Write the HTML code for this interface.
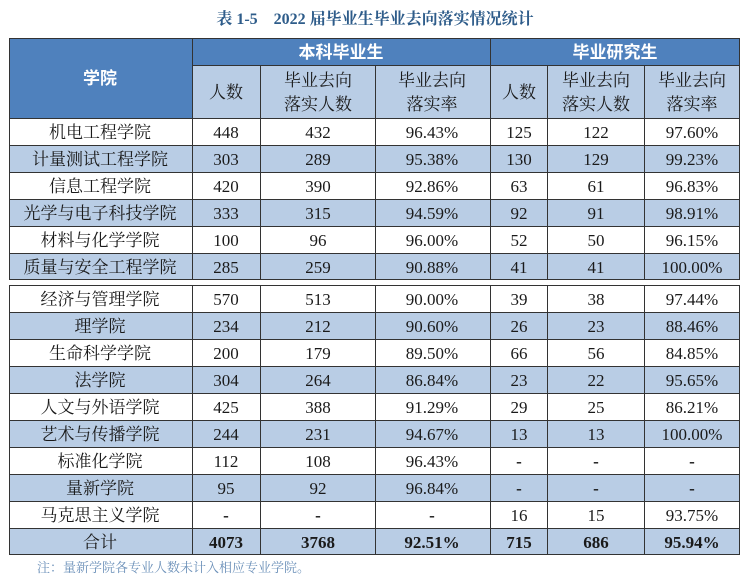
<!DOCTYPE html>
<html><head><meta charset="utf-8"><style>
html,body{margin:0;padding:0;background:#fff;}
svg{display:block}
.t{font-family:"Liberation Serif","Noto Serif CJK SC",serif;font-size:17px;fill:#1a1a1a;text-anchor:middle}
.h{font-family:"Liberation Sans","Noto Sans CJK SC",sans-serif;font-size:17px;font-weight:bold;fill:#fff;text-anchor:middle}
.b{font-weight:bold}
</style></head><body>
<svg width="749" height="581" xmlns="http://www.w3.org/2000/svg">
<text x="375" y="24" style="font-family:'Liberation Serif','Noto Serif CJK SC',serif;font-size:16px;font-weight:bold;fill:#2e5c8a;text-anchor:middle">表 1-5　2022 届毕业生毕业去向落实情况统计</text>
<!-- header -->
<rect x="9" y="38" width="731" height="80" fill="#b9cde5"/>
<rect x="9" y="38" width="183" height="80" fill="#4f81bd"/>
<rect x="192" y="38" width="548" height="27" fill="#4f81bd"/>
<!-- rows fills -->
<g fill="#b9cde5">
<rect x="9" y="145" width="731" height="27"/>
<rect x="9" y="199" width="731" height="27"/>
<rect x="9" y="253" width="731" height="27"/>
<rect x="9" y="312" width="731" height="27"/>
<rect x="9" y="366" width="731" height="27"/>
<rect x="9" y="420" width="731" height="27"/>
<rect x="9" y="474" width="731" height="27"/>
<rect x="9" y="528" width="731" height="27"/>
</g>
<g stroke="#333" stroke-width="1" fill="none">
<rect x="9.5" y="38.5" width="730" height="241"/>
<rect x="9.5" y="285.5" width="730" height="269"/>
<path d="M192.5 38V280M260.5 65V280M375.5 65V280M490.5 38V280M547.5 65V280M644.5 65V280"/>
<path d="M192.5 285V555M260.5 285V555M375.5 285V555M490.5 285V555M547.5 285V555M644.5 285V555"/>
<path d="M192 65.5H740M9 118.5H740M9 145.5H740M9 172.5H740M9 199.5H740M9 226.5H740M9 253.5H740"/>
<path d="M9 312.5H740M9 339.5H740M9 366.5H740M9 393.5H740M9 420.5H740M9 447.5H740M9 474.5H740M9 501.5H740M9 528.5H740"/>
</g>
<text class="h" x="100" y="84">学院</text>
<text class="h" x="341" y="58">本科毕业生</text>
<text class="h" x="615" y="58">毕业研究生</text>
<g class="t">
<text x="226" y="98">人数</text>
<text x="318" y="86">毕业去向</text><text x="318" y="110">落实人数</text>
<text x="432" y="86">毕业去向</text><text x="432" y="110">落实率</text>
<text x="519" y="98">人数</text>
<text x="596" y="86">毕业去向</text><text x="596" y="110">落实人数</text>
<text x="692" y="86">毕业去向</text><text x="692" y="110">落实率</text>
</g>
<g class="t">
<text x="100" y="138">机电工程学院</text><text x="226" y="138">448</text><text x="318" y="138">432</text><text x="432" y="138">96.43%</text><text x="519" y="138">125</text><text x="596" y="138">122</text><text x="692" y="138">97.60%</text>
<text x="100" y="165">计量测试工程学院</text><text x="226" y="165">303</text><text x="318" y="165">289</text><text x="432" y="165">95.38%</text><text x="519" y="165">130</text><text x="596" y="165">129</text><text x="692" y="165">99.23%</text>
<text x="100" y="192">信息工程学院</text><text x="226" y="192">420</text><text x="318" y="192">390</text><text x="432" y="192">92.86%</text><text x="519" y="192">63</text><text x="596" y="192">61</text><text x="692" y="192">96.83%</text>
<text x="100" y="219">光学与电子科技学院</text><text x="226" y="219">333</text><text x="318" y="219">315</text><text x="432" y="219">94.59%</text><text x="519" y="219">92</text><text x="596" y="219">91</text><text x="692" y="219">98.91%</text>
<text x="100" y="246">材料与化学学院</text><text x="226" y="246">100</text><text x="318" y="246">96</text><text x="432" y="246">96.00%</text><text x="519" y="246">52</text><text x="596" y="246">50</text><text x="692" y="246">96.15%</text>
<text x="100" y="273">质量与安全工程学院</text><text x="226" y="273">285</text><text x="318" y="273">259</text><text x="432" y="273">90.88%</text><text x="519" y="273">41</text><text x="596" y="273">41</text><text x="692" y="273">100.00%</text>
<text x="100" y="305">经济与管理学院</text><text x="226" y="305">570</text><text x="318" y="305">513</text><text x="432" y="305">90.00%</text><text x="519" y="305">39</text><text x="596" y="305">38</text><text x="692" y="305">97.44%</text>
<text x="100" y="332">理学院</text><text x="226" y="332">234</text><text x="318" y="332">212</text><text x="432" y="332">90.60%</text><text x="519" y="332">26</text><text x="596" y="332">23</text><text x="692" y="332">88.46%</text>
<text x="100" y="359">生命科学学院</text><text x="226" y="359">200</text><text x="318" y="359">179</text><text x="432" y="359">89.50%</text><text x="519" y="359">66</text><text x="596" y="359">56</text><text x="692" y="359">84.85%</text>
<text x="100" y="386">法学院</text><text x="226" y="386">304</text><text x="318" y="386">264</text><text x="432" y="386">86.84%</text><text x="519" y="386">23</text><text x="596" y="386">22</text><text x="692" y="386">95.65%</text>
<text x="100" y="413">人文与外语学院</text><text x="226" y="413">425</text><text x="318" y="413">388</text><text x="432" y="413">91.29%</text><text x="519" y="413">29</text><text x="596" y="413">25</text><text x="692" y="413">86.21%</text>
<text x="100" y="440">艺术与传播学院</text><text x="226" y="440">244</text><text x="318" y="440">231</text><text x="432" y="440">94.67%</text><text x="519" y="440">13</text><text x="596" y="440">13</text><text x="692" y="440">100.00%</text>
<text x="100" y="467">标准化学院</text><text x="226" y="467">112</text><text x="318" y="467">108</text><text x="432" y="467">96.43%</text><text x="519" y="467" class="b">-</text><text x="596" y="467" class="b">-</text><text x="692" y="467" class="b">-</text>
<text x="100" y="494">量新学院</text><text x="226" y="494">95</text><text x="318" y="494">92</text><text x="432" y="494">96.84%</text><text x="519" y="494" class="b">-</text><text x="596" y="494" class="b">-</text><text x="692" y="494" class="b">-</text>
<text x="100" y="521">马克思主义学院</text><text x="226" y="521" class="b">-</text><text x="318" y="521" class="b">-</text><text x="432" y="521" class="b">-</text><text x="519" y="521">16</text><text x="596" y="521">15</text><text x="692" y="521">93.75%</text>
<text x="100" y="548">合计</text>
<g class="b"><text x="226" y="548">4073</text><text x="318" y="548">3768</text><text x="432" y="548">92.51%</text><text x="519" y="548">715</text><text x="596" y="548">686</text><text x="692" y="548">95.94%</text></g>
</g>
<text x="37" y="572" style="font-family:'Liberation Serif','Noto Serif CJK SC',serif;font-size:13px;fill:#6a8fb8">注：量新学院各专业人数未计入相应专业学院。</text>
</svg>
</body></html>
